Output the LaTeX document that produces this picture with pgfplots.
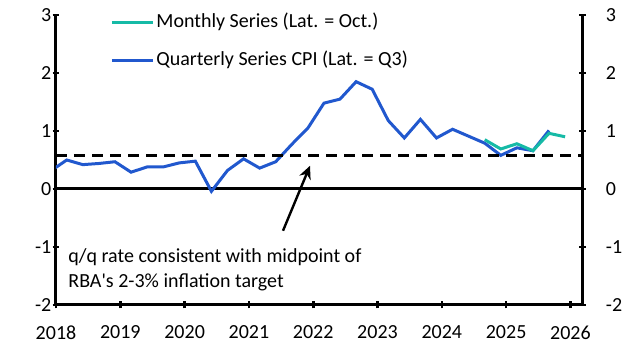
\documentclass[border=0pt]{standalone}
\usepackage{fontspec}
\setmainfont{Carlito}[Ligatures=TeXOff]
\usepackage{pgfplots}
\pgfplotsset{compat=1.18}
\usetikzlibrary{arrows.meta}
\definecolor{cteal}{RGB}{22,186,166}
\definecolor{cblue}{RGB}{33,88,206}
\begin{document}
\begin{tikzpicture}
\pgfplotsset{
  base/.style={
    width=263pt, height=145pt, scale only axis,
    xmin=2018, xmax=2026.18, ymin=-2, ymax=3,
    xtick={2018,2019,2020,2021,2022,2023,2024,2025,2026},
    xticklabels={2018,2019,2020,2021,2022,2023,2024,2025,2026},
    ytick={-2,-1,0,1,2,3},
    yticklabels={-2,-1,0,1,2,3},
    tick align=outside, major tick length=3.5pt,
    tick style={black, line width=1.3pt},
    tick label style={font=\fontsize{10}{12}\selectfont, inner sep=0pt},
    clip=true,
  }
}
\begin{axis}[base, name=main,
  axis x line=bottom, axis y line=left,
  axis line style={-, black, line width=1.5pt},
  x axis line style={-}, y axis line style={-},
  xticklabel style={yshift=-8.3pt},
  yticklabel style={xshift=-0.4pt},
  legend style={draw=none, fill=none, inner sep=0pt, row sep=8pt,
    at={(rel axis cs:0.1027,1.0138)}, anchor=north west,
    font=\fontsize{10}{12}\selectfont,
    nodes={inner sep=1pt, text height=7pt, text depth=2pt}},
  legend cell align=left,
  legend image code/.code={\draw[#1] (0pt,0pt) -- (20.5pt,0pt);},
]
\addplot[black, line width=1.5pt, forget plot] coordinates {(2018,0) (2026.18,0)};
\addplot[cblue, line width=1.5pt, forget plot] coordinates {
(2017.917,0.31) (2018.167,0.50) (2018.417,0.42) (2018.667,0.44) (2018.917,0.47)
(2019.167,0.29) (2019.417,0.38) (2019.667,0.38) (2019.917,0.45)
(2020.167,0.48) (2020.417,-0.04) (2020.667,0.32) (2020.917,0.52)
(2021.167,0.36) (2021.417,0.47) (2021.667,0.77) (2021.917,1.05)
(2022.167,1.48) (2022.417,1.55) (2022.667,1.85) (2022.917,1.72)
(2023.167,1.18) (2023.417,0.88) (2023.667,1.20) (2023.917,0.88)
(2024.167,1.03) (2024.417,0.91) (2024.667,0.79) (2024.917,0.58)
(2025.167,0.71) (2025.417,0.66) (2025.667,1.01)};
\addplot[cteal, line width=1.5pt] coordinates {
(2024.667,0.85) (2024.917,0.69) (2025.167,0.78) (2025.417,0.66)
(2025.667,0.96) (2025.917,0.90)};
\addlegendentry{Monthly Series (Lat. = Oct.)}
\addlegendimage{cblue, line width=1.5pt}
\addlegendentry{Quarterly Series CPI (Lat. = Q3)}
\addplot[black, line width=1.5pt, dash pattern=on 5.5pt off 3.5pt, forget plot]
  coordinates {(2018,0.58) (2026.18,0.58)};
\draw[-{Stealth[length=6.5pt,width=6pt]}, line width=1.2pt]
  (axis cs:2021.53,-0.72) -- (axis cs:2021.95,0.40);
\node[anchor=base west, inner sep=0pt, align=left,
  font=\fontsize{10}{12.5}\selectfont]
  at (axis cs:2018.187,-1.70) {q/q rate consistent with midpoint of\\RBA's 2-3\% inflation target};
\end{axis}
\begin{axis}[base,
  axis y line=right, axis x line=none,
  axis line style={-, black, line width=1.5pt},
  y axis line style={-},
  yticklabel style={xshift=10pt},
]
\end{axis}
\path ([shift={(-28pt,-23.5pt)}]main.south west) rectangle ++(313.5pt,176pt);
\end{tikzpicture}
\end{document}
